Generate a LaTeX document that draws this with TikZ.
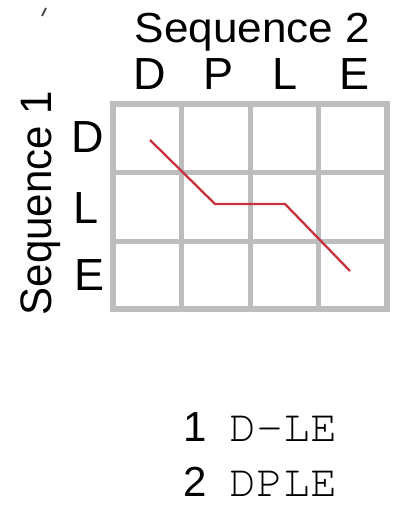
\documentclass[tikz,border=0pt]{standalone}
\usepackage[T1,TU]{fontenc}
\usepackage{fontspec}
\setmainfont{Liberation Sans}
\definecolor{gridgray}{HTML}{BDBDBD}
\definecolor{pathred}{HTML}{C8323C}
\begin{document}
\begin{tikzpicture}[x=1pt,y=-1pt,
  lbl/.style={inner sep=0pt,anchor=base,font=\fontsize{45}{45}\selectfont},
  title/.style={inner sep=0pt,anchor=base,xscale=1.05,font=\fontsize{42}{42}\selectfont},
  seqtxt/.style={inner sep=0pt,anchor=base west,font=\fontencoding{T1}\fontfamily{pcr}\fontsize{45}{45}\selectfont},
  numtxt/.style={inner sep=0pt,anchor=base west,font=\fontsize{42}{42}\selectfont},
  gridline/.style={draw=gridgray,line width=5pt},
  gridouter/.style={draw=gridgray,line width=6pt},
  pathline/.style={draw=pathred,line width=2.3pt}]
\useasboundingbox (0,0) rectangle (395,505);
% stray mark at top left
\draw[line width=2pt,black!70] (46,8) -- (42,16);
% titles
\node[title] (t2) at (252.5,43) {Sequence 2};
\node[title,rotate=90] (t1) at (51,203) {Sequence 1};
% column letters
\node[lbl] (cD) at (150,90) {D};
\node[lbl] (cP) at (219,90) {P};
\node[lbl] (cL) at (285,90) {L};
\node[lbl] (cE) at (355,90) {E};
% row letters
\node[lbl] (rD) at (87.5,153) {D};
\node[lbl] (rL) at (86.5,223) {L};
\node[lbl] (rE) at (89.5,290) {E};
% grid
\foreach \x in {181.5,250,318.5} \draw[gridline] (\x,104) -- (\x,309);
\foreach \y in {172.5,241} \draw[gridline] (113,\y) -- (387,\y);
\draw[gridouter] (113,104) rectangle (387,309);
% path
\coordinate (p0) at (150,140);
\coordinate (p1) at (215,204);
\coordinate (p2) at (285,204);
\coordinate (p3) at (350,271);
\draw[pathline] (p0) -- (p1) -- (p2) -- (p3);
% alignment
\node[numtxt] (n1) at (183,441) {1};
\node[seqtxt] (s1) at (229,441) {D-LE};
\node[numtxt] (n2) at (183,496) {2};
\node[seqtxt] (s2) at (229,496) {DPLE};
\end{tikzpicture}
\end{document}
